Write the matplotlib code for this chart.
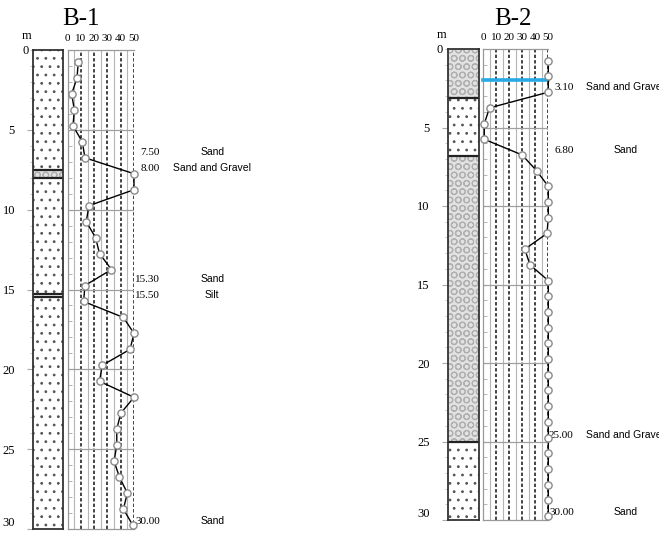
import numpy as np
import matplotlib.pyplot as plt
import matplotlib.transforms as mtrans

plt.rcParams['hatch.linewidth'] = 0.8

W, H = 659, 534

# SPT N values (depth in m)
spt_depth = [0.75, 1.75, 2.75, 3.75, 4.75, 5.75, 6.75, 7.75, 8.75, 9.75,
             10.75, 11.75, 12.75, 13.75, 14.75, 15.75, 16.75, 17.75, 18.75, 19.75,
             20.75, 21.75, 22.75, 23.75, 24.75, 25.75, 26.75, 27.75, 28.75, 29.75]
b1_n = [8, 7, 3, 5, 4, 11, 13, 50, 50, 16,
        14, 21, 24, 33, 13, 12, 42, 50, 47, 26,
        24, 50, 40, 37, 37, 35, 39, 45, 42, 49]
b2_n = [50, 50, 50, 5, 1, 1, 30, 41, 50, 50,
        50, 49, 32, 36, 50, 50, 50, 50, 50, 50,
        50, 50, 50, 50, 50, 50, 50, 50, 50, 50]

# layers
b1_top = [0.0, 7.5, 8.0, 15.3, 15.5]
b1_bot = [7.5, 8.0, 15.3, 15.5, 30.0]
b1_soil = ['Sand', 'Sand and Gravel', 'Sand', 'Silt', 'Sand']
b1_label_y = [6.4, 7.4, 14.35, 15.35, 29.5]

b2_top = [0.0, 3.1, 6.8, 25.0]
b2_bot = [3.1, 6.8, 25.0, 30.0]
b2_soil = ['Sand and Gravel', 'Sand', 'Sand and Gravel', 'Sand']
b2_label_y = [2.45, 6.45, 24.6, 29.5]
b2_water = 2.0

serif = 'Liberation Serif'
sans = 'Liberation Sans'


def px_rect(x0, y0, x1, y1):
    return [x0 / W, 1 - y1 / H, (x1 - x0) / W, (y1 - y0) / H]


def soil_style(soil):
    if soil == 'Sand':
        return dict(facecolor='white', edgecolor='#555555', hatch='..')
    if soil == 'Sand and Gravel':
        return dict(facecolor='#e2e2e2', edgecolor='#b0b0b0', hatch='OO')
    return dict(facecolor='white', edgecolor='white', hatch=None)


def draw_log(fig, lith_px, chart_px, title, title_x, tops, bots, soils, label_y, nvals,
             water=None):
    lax = fig.add_axes(px_rect(*lith_px))
    cax = fig.add_axes(px_rect(*chart_px))

    # lithology column
    lax.set_xlim(0, 1)
    lax.set_ylim(30, 0)
    for t, b, s in zip(tops, bots, soils):
        lax.axhspan(t, b, lw=0, **soil_style(s))
    lax.hlines(bots[:-1], 0, 1, color='#222222', lw=1.6)
    for sp in lax.spines.values():
        sp.set_color('#333333')
        sp.set_linewidth(1.3)
    lax.set_xticks([])
    lax.set_yticks([5, 10, 15, 20, 25, 30])
    lax.set_yticks(np.arange(0, 31, 1), minor=True)
    lax.tick_params(axis='y', which='major', length=4, color='#aaaaaa', pad=9, labelsize=9)
    lax.tick_params(axis='y', which='minor', length=2, color='#bbbbbb')
    for lab in lax.get_yticklabels():
        lab.set_fontfamily(serif)
    lax.get_yticklabels()[-1].set_verticalalignment('bottom')
    tr = mtrans.blended_transform_factory(lax.transAxes, lax.transData)
    lax.text(-0.25, 0.05, '0', transform=tr, ha='center', va='center', fontsize=9, fontfamily=serif)
    lax.text(-0.2, -0.5, 'm', transform=tr, ha='center', va='bottom', fontsize=9, fontfamily=serif)

    # SPT chart
    cax.set_xlim(0, 50)
    cax.set_ylim(30, 0)
    for v in [5, 15, 25, 35, 45]:
        cax.axvline(v, color='#b5b5b5', lw=0.8)
    for v in [10, 20, 30, 40, 50]:
        cax.axvline(v, color='#111111', lw=1.1, dashes=(2.2, 1.4))
    for h in [5, 10, 15, 20, 25]:
        cax.axhline(h, color='#a0a0a0', lw=0.9)
    for name in ['top', 'left', 'bottom']:
        cax.spines[name].set_color('#999999')
        cax.spines[name].set_linewidth(0.9)
    cax.spines['right'].set_visible(False)
    cax.xaxis.tick_top()
    cax.set_xticks([0, 10, 20, 30, 40, 50])
    cax.tick_params(axis='x', length=0, pad=5, labelsize=8)
    for lab in cax.get_xticklabels():
        lab.set_fontfamily(serif)
    cax.set_yticks([])
    cax.set_yticks(np.arange(0, 31, 1), minor=True)
    cax.tick_params(axis='y', which='minor', direction='in', length=3, color='#aaaaaa')
    cax.set_yticklabels([], minor=True)

    if water is not None:
        cax.plot([0, 50], [water, water], color='#27aae1', lw=2.6, zorder=4, clip_on=False)

    cax.plot(nvals, spt_depth, '-o', color='black', lw=1.0, ms=5.2,
             mfc='white', mec='#8a8a8a', mew=1.0, zorder=5, clip_on=False)

    for b, s, y in zip(bots, soils, label_y):
        cax.text(69.5, y, f'{b:.2f}', ha='right', va='center', fontsize=8,
                 fontfamily=serif, clip_on=False)
        cax.text(109, y, s, ha='center', va='center', fontsize=7.5,
                 fontfamily=sans, clip_on=False)

    fig.text(title_x / W, 1 - 19 / H, title, ha='center', va='center', fontsize=18,
             fontfamily=serif)


fig = plt.figure(figsize=(W / 100, H / 100), dpi=100)
draw_log(fig, (33, 50, 63, 529), (67.7, 50, 134, 529), 'B-1', 81,
         b1_top, b1_bot, b1_soil, b1_label_y, b1_n)
draw_log(fig, (447.7, 49, 478.7, 520), (483, 49, 548.3, 520), 'B-2', 513,
         b2_top, b2_bot, b2_soil, b2_label_y, b2_n, water=b2_water)
fig.savefig('out.png', dpi=100)
